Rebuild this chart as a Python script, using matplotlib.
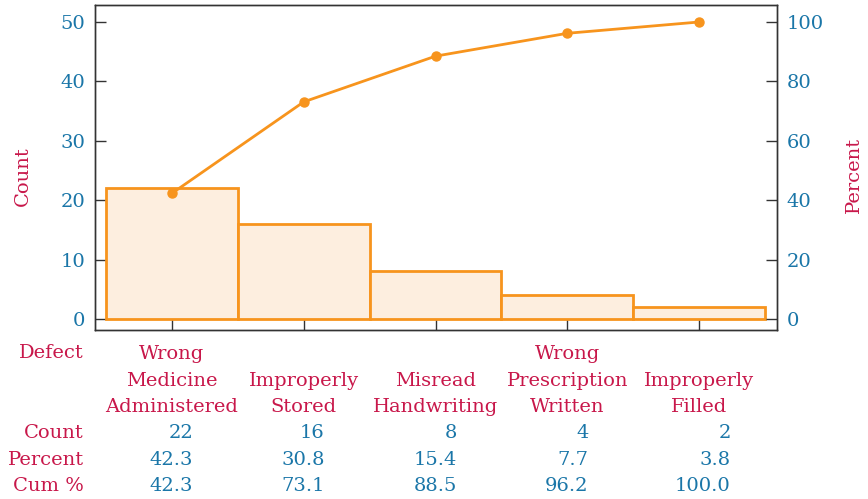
import numpy as np
import matplotlib
matplotlib.use("Agg")
import matplotlib.pyplot as plt

# Pareto data: medication defects
defects = ["Wrong\nMedicine\nAdministered", "Improperly\nStored", "Misread\nHandwriting",
           "Wrong\nPrescription\nWritten", "Improperly\nFilled"]
counts = [22, 16, 8, 4, 2]
percent = [42.3, 30.8, 15.4, 7.7, 3.8]
cum_pct = [42.3, 73.1, 88.5, 96.2, 100.0]
count_ticks = [0, 10, 20, 30, 40, 50]
pct_ticks = [0, 20, 40, 60, 80, 100]

orange = "#f7941d"
fill = "#fdeedf"
blue = "#1a76a8"
red = "#c8174a"
plt.rcParams["font.family"] = ["DejaVu Serif"]
fs = 14

fig = plt.figure(figsize=(8.68, 4.99), dpi=100)
ax = fig.add_axes([95 / 868, 1 - 330 / 499, (777 - 95) / 868, (330 - 5) / 499])
x = np.arange(len(counts))

ax.bar(x, counts, width=1.0, color=fill, edgecolor=orange, linewidth=2, zorder=2)
ax.set_xlim(-0.583, 4.59)
ax.set_ylim(-1.85, 52.86)
ax.set_yticks(count_ticks)
ax.set_xticks(x)
ax.set_xticklabels([])
ax.tick_params(direction="in", length=8, width=1, colors="#333333",
               labelcolor=blue, labelsize=fs)
ax.tick_params(axis="y", pad=7)
ax.set_ylabel("Count", color=red, fontsize=fs)
ax.yaxis.set_label_coords(-0.092, 0.474)

ax2 = ax.twinx()
ax2.plot(x, cum_pct, color=orange, linewidth=2, marker="o", markersize=6.5, zorder=3)
ax2.set_ylim(-3.7, 105.72)
ax2.set_yticks(pct_ticks)
ax2.tick_params(direction="in", length=8, width=1, colors="#333333",
                labelcolor=blue, labelsize=fs, pad=7)
ax2.set_ylabel("Percent", color=red, fontsize=fs)
ax2.yaxis.set_label_coords(1.099, 0.477)

for a in (ax, ax2):
    for s in a.spines.values():
        s.set_color("#333333")
        s.set_linewidth(1)

# table under the chart
def fy(py):
    return 1 - py / 499

row_x = 84 / 868
fig.text(row_x, fy(353), "Defect", ha="right", va="center", color=red, fontsize=fs)
fig.text(row_x, fy(433), "Count", ha="right", va="center", color=red, fontsize=fs)
fig.text(row_x, fy(460), "Percent", ha="right", va="center", color=red, fontsize=fs)
fig.text(row_x, fy(486), "Cum %", ha="right", va="center", color=red, fontsize=fs)

offs = [0.16, 0.16, 0.16, 0.16, 0.24]
to_fig = fig.transFigure.inverted()
for i in range(len(counts)):
    xf = to_fig.transform(ax.transData.transform((x[i], 0)))[0]
    xr = to_fig.transform(ax.transData.transform((x[i] + offs[i], 0)))[0]
    fig.text(xf, fy(416), defects[i], ha="center", va="bottom", color=red,
             fontsize=fs, linespacing=1.6)
    fig.text(xr, fy(433), str(counts[i]), ha="right", va="center", color=blue, fontsize=fs)
    fig.text(xr, fy(460), "%.1f" % percent[i], ha="right", va="center", color=blue, fontsize=fs)
    fig.text(xr, fy(486), "%.1f" % cum_pct[i], ha="right", va="center", color=blue, fontsize=fs)

fig.savefig("out.png", dpi=100)
